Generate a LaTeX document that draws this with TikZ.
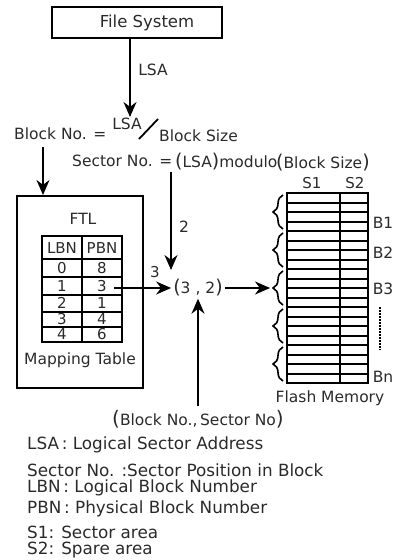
\documentclass[tikz,border=0pt]{standalone}
\usepackage{fontspec}
\setmainfont{DejaVu Sans}
\usetikzlibrary{arrows.meta,decorations.pathreplacing}
\definecolor{txt}{HTML}{2A2A2A}
\begin{document}
\begin{tikzpicture}[x=1pt,y=-1pt,
  ln/.style={line width=2pt},
  arr/.style={line width=2pt,-{Stealth[length=15pt,width=13pt]}},
  lbl/.style={text=txt,font=\fontsize{15.5}{17}\selectfont,inner sep=0pt},
  small/.style={text=txt,font=\fontsize{15}{16}\selectfont,inner sep=0pt},
  leg/.style={text=txt,font=\fontsize{16.8}{18}\selectfont,inner sep=0pt,anchor=west},
  brc/.style={line width=1.6pt,decorate,decoration={brace,amplitude=10pt}},
  ]
\useasboundingbox (0,0) rectangle (396,560);

% File system
\node[draw,ln,minimum width=170pt,minimum height=31pt,inner sep=0pt] (fs) at (137,22.5) {};
\node[lbl,font=\fontsize{16.5}{18}\selectfont] (fst) at (147,23) {File System};
\coordinate (lsaend) at (130,117);
\draw[arr] (fs.south -| lsaend) -- (lsaend);
\node[lbl] (lsa) at (153,70) {LSA};

% Block No. line
\node[lbl,anchor=west] (bno) at (14,134) {Block No. =};
\node[lbl] (lsasup) at (127,124) {LSA};
\coordinate (sl1) at (139,139);
\coordinate (sl2) at (158,119);
\draw[line width=1.8pt] (sl1) -- (sl2);
\node[lbl,anchor=west] (bsz) at (159,136) {Block Size};

% Sector No. line
\node[lbl,anchor=west] (sno) at (72,161) {Sector No. =};
\node[lbl,anchor=west] (lsam) at (175,162) {{\fontsize{19}{20}\selectfont(}LSA{\fontsize{19}{20}\selectfont)}modulo};
\node[lbl,anchor=west] (bsz2) at (276,163) {{\fontsize{19}{20}\selectfont(}Block Size{\fontsize{19}{20}\selectfont)}};

% FTL box
\node[draw,ln,minimum width=126pt,minimum height=192pt,inner sep=0pt] (ftl) at (80,292) {};
\coordinate (bA) at (43,147);
\draw[arr] (bA) -- (ftl.north -| bA);
\node[lbl] (ftlt) at (83,219) {FTL};
\node[lbl] (mt) at (80,360) {Mapping Table};

% table
\draw[ln] (42,236) rectangle (122,342);
\draw[ln] (82,236) -- (82,342);
\foreach \yy in {259,277,295,311.5,327} \draw[ln] (42,\yy) -- (122,\yy);
\node[small] (hl) at (62,248) {LBN};
\node[small] (hp) at (102,248) {PBN};
\node[small] (l0) at (62,268) {0};  \node[small] (p0) at (102,268) {8};
\node[small] (l1) at (62,286) {1};  \node[small] (p1) at (102,286) {3};
\node[small] (l2) at (62,303) {2};  \node[small] (p2) at (102,303) {1};
\node[small] (l3) at (62,319.5) {3};\node[small] (p3) at (102,319.5) {4};
\node[small] (l4) at (62,334.5) {4};\node[small] (p4) at (102,334.5) {6};

% (3,2)
\node[lbl,inner sep=2pt] (c32) at (198,288) {{\fontsize{19}{20}\selectfont(}3 , 2{\fontsize{19}{20}\selectfont)}};
\coordinate (p1e) at (114,288);
\draw[arr] (p1e) -- (c32.west |- p1e);
\node[small] (three) at (155,272) {3};
\coordinate (sA) at (171,172);
\coordinate (sB) at (171,270);
\draw[arr] (sA) -- (sB);
\node[lbl] (two) at (184,227) {2};

% bottom label
\node[lbl] (bsn) at (198,419) {{\fontsize{20}{21}\selectfont(}Block No.,\,{\fontsize{15.5}{17}\selectfont Sector No}{\fontsize{20}{21}\selectfont)}};
\coordinate (bB) at (198,406);
\draw[arr] (bB) -- (c32.south);

% Flash memory
\node[draw,ln,minimum width=81pt,minimum height=190pt,inner sep=0pt] (fm) at (327.5,288) {};
\draw[ln] (340,193) -- (340,383);
\foreach \i in {1,...,19} \draw[ln] (287,193+9.5*\i) -- (368,193+9.5*\i);
\foreach \i in {0,...,4} \draw[brc] (283,193+38*\i+36) -- (283,193+38*\i+2);
\coordinate (b3tip) at (270,288);
\draw[arr] (c32.east) -- (b3tip);
\node[small] (s1) at (312,183) {S1};
\node[small] (s2) at (355,183) {S2};
\node[lbl] (b1) at (383,223) {B1};
\node[lbl] (b2) at (383,253) {B2};
\node[lbl] (b3) at (383,289) {B3};
\node[lbl] (bn) at (383,377) {Bn};
\coordinate (d1) at (380,307);
\coordinate (d2) at (380,350);
\draw[line width=1.8pt,dash pattern=on 1.5pt off 1.5pt] (d1) -- (d2);
\node[lbl] (flm) at (330,398) {Flash Memory};

% legend
\node[leg] (g1) at (27,445) {LSA\,: Logical Sector Address};
\node[leg] (g2) at (27,470) {Sector No. :Sector Position in Block};
\node[leg] (g3) at (27,488) {LBN\,: Logical Block Number};
\node[leg] (g4) at (27,509) {PBN\,: Physical Block Number};
\node[leg] (g5) at (27,532) {S1: Sector area};
\node[leg] (g6) at (27,550) {S2: Spare area};
\end{tikzpicture}
\end{document}
